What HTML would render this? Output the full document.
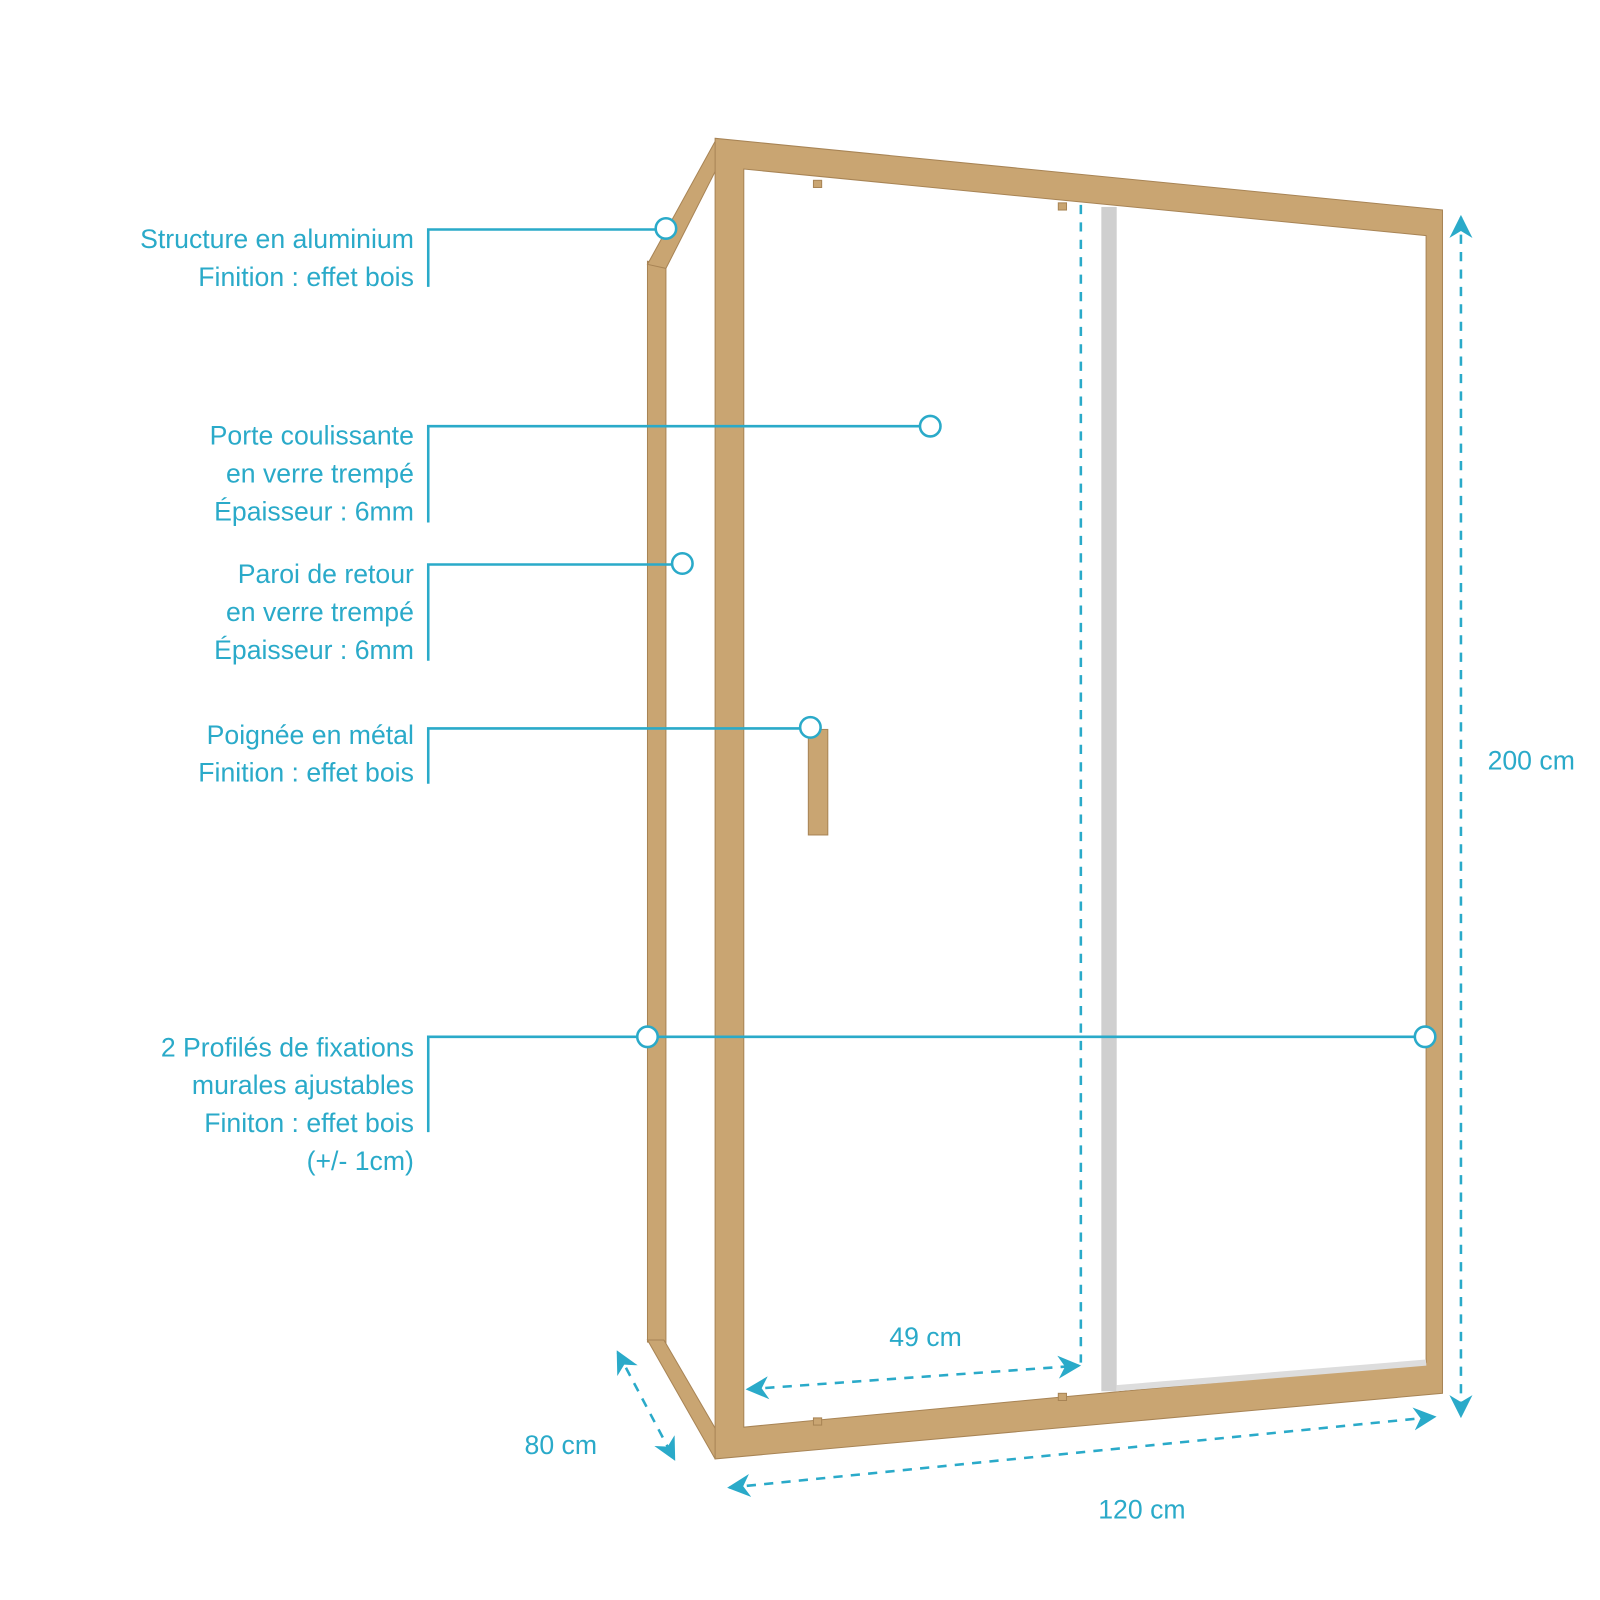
<!DOCTYPE html>
<html><head><meta charset="utf-8"><style>
html,body{margin:0;padding:0;background:#fff}
svg{display:block}
text{font-family:"Liberation Sans Narrow","Liberation Sans",sans-serif;fill:#2aaac9;font-size:26px}
</style></head><body>
<svg width="1600" height="1600" viewBox="0 0 1600 1600" xmlns="http://www.w3.org/2000/svg">
<defs>
<marker id="ar" viewBox="0 0 10 10" refX="9" refY="5" markerWidth="9" markerHeight="9" orient="auto-start-reverse"><path d="M0,0 L10,5 L0,10 L3,5 z" fill="#2aaac9"/></marker>
</defs>
<g transform="scale(1.0245)">
<g fill="#c9a572" stroke="#a88455" stroke-width="1">
<polygon points="632,255 650,258 650,1312 632,1310"/>
<polygon points="698,138 712,140 650,262 632,258"/>
<polygon points="632,1308 648,1308 712,1418 698,1424"/>
<path fill-rule="evenodd" d="M698,135 L1408,205 L1408,1360 L698,1424 Z M726,165 L1392,230 L1392,1330 L726,1393 Z"/>
<rect x="789" y="712" width="19" height="103"/>
<rect x="794" y="176" width="8" height="7"/><rect x="1033" y="198" width="8" height="7"/>
<rect x="794" y="1384" width="8" height="7"/><rect x="1033" y="1360" width="8" height="7"/>
</g>
<rect x="1075" y="202" width="15" height="1156" fill="#cfcfcf"/>
<line x1="1090" y1="1355" x2="1392" y2="1330" stroke="#ddd" stroke-width="6"/>
<g stroke="#2aaac9" fill="none" stroke-width="2.5">
<line x1="1055" y1="200" x2="1055" y2="1330" stroke-dasharray="9,8"/>
<line x1="1426" y1="212" x2="1426" y2="1382" stroke-dasharray="9,8" marker-start="url(#ar)" marker-end="url(#ar)"/>
<line x1="730" y1="1356" x2="1053" y2="1333" stroke-dasharray="9,8" marker-start="url(#ar)" marker-end="url(#ar)"/>
<line x1="712" y1="1452" x2="1400" y2="1383" stroke-dasharray="9,8" marker-start="url(#ar)" marker-end="url(#ar)"/>
<line x1="603" y1="1320" x2="658" y2="1424" stroke-dasharray="9,8" marker-start="url(#ar)" marker-end="url(#ar)"/>
<path d="M418,280 V224 H640"/>
<path d="M418,510 V416 H898"/>
<path d="M418,645 V551 H656"/>
<path d="M418,765 V711 H781"/>
<path d="M418,1105 V1012 H622 M642,1012 H1381"/>
</g>
<g stroke="#2aaac9" fill="#fff" stroke-width="2.5">
<circle cx="650" cy="223" r="10"/><circle cx="908" cy="416" r="10"/>
<circle cx="666" cy="550" r="10"/><circle cx="791" cy="710" r="10"/>
<circle cx="632" cy="1012" r="10"/><circle cx="1391" cy="1012" r="10"/>
</g>
<g text-anchor="end">
<text x="404" y="242">Structure en aluminium</text>
<text x="404" y="279">Finition : effet bois</text>
<text x="404" y="434">Porte coulissante</text>
<text x="404" y="471">en verre trempé</text>
<text x="404" y="508">Épaisseur : 6mm</text>
<text x="404" y="569">Paroi de retour</text>
<text x="404" y="606">en verre trempé</text>
<text x="404" y="643">Épaisseur : 6mm</text>
<text x="404" y="726">Poignée en métal</text>
<text x="404" y="763">Finition : effet bois</text>
<text x="404" y="1031">2 Profilés de fixations</text>
<text x="404" y="1068">murales ajustables</text>
<text x="404" y="1105">Finiton : effet bois</text>
<text x="404" y="1142">(+/- 1cm)</text>
</g>
<text x="868" y="1314">49 cm</text>
<text x="1452" y="751">200 cm</text>
<text x="512" y="1419">80 cm</text>
<text x="1072" y="1482">120 cm</text>
</g>
</svg>
</body></html>
